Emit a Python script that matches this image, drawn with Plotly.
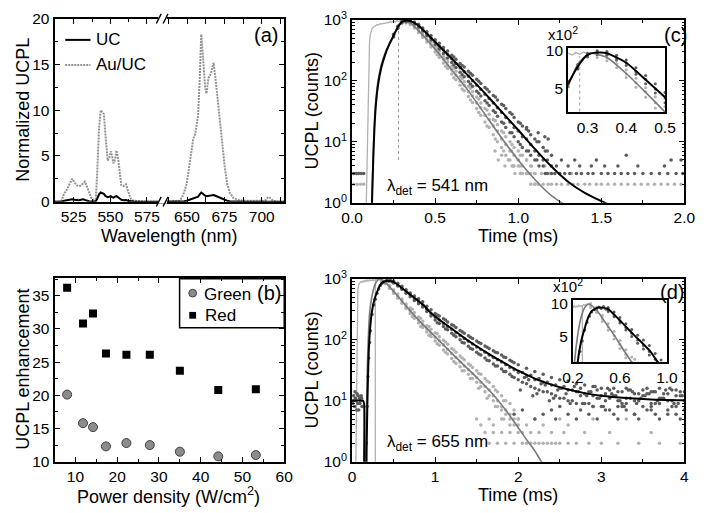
import plotly.graph_objects as go
import math

W, H = 708, 513
FONT = "Liberation Sans, Arial, sans-serif"


def fx(p):
    return p / W


def fy(p):
    return 1 - p / H


# ---------------- (a) spectra ----------------
wl_left = [512, 514, 516, 517, 518.5, 520, 522, 524, 525.5, 527,
           528.5, 530, 531.5, 532.6, 534, 535.5, 537, 538.5, 540.1, 541,
           542.3, 543.4, 544.5, 545.6, 546.8, 548.2, 549.3, 550.3, 551.2, 552.1,
           553.2, 554.2, 555.5, 556.5, 557.5, 559, 560.7, 562, 564, 566,
           569.4, 574, 580, 586]
au_left = [0, 0, 0.05, 0.2, 0.9, 1.2, 1.8, 2.5, 2.1, 1.8,
           1.7, 1.75, 2.0, 2.2, 1.7, 1.0, 0.4, 0.2, 0.3, 3.0,
           8.0, 10.0, 9.8, 9.6, 7.0, 4.5, 4.8, 5.5, 5.0, 4.2,
           4.6, 5.6, 4.5, 2.8, 1.8, 1.7, 1.9, 1.2, 0.3, 0.1,
           0.05, 0, 0, 0]
uc_left = [0, 0, 0, 0.02, 0.1, 0.15, 0.2, 0.25, 0.2, 0.15,
           0.15, 0.2, 0.25, 0.2, 0.1, 0.05, 0.03, 0.02, 0.05, 0.3,
           0.8, 1.0, 0.95, 0.85, 0.6, 0.5, 0.55, 0.6, 0.5, 0.45,
           0.55, 0.6, 0.45, 0.3, 0.2, 0.15, 0.18, 0.1, 0.03, 0.01,
           0, 0, 0, 0]
wl_right = [634, 640, 644.4, 646.5, 648, 649.8, 651.5, 653, 654.1, 655.6,
            657.4, 658.5, 659.5, 660.4, 661.2, 662.1, 663, 664.3, 666, 667.7,
            669, 670.3, 672, 673.6, 675.2, 676.8, 678.5, 681, 684, 687.7,
            695, 701, 702.8, 704, 705, 706, 707.5, 710, 715]
au_right = [0, 0, 0.05, 0.4, 1.0, 2.0, 4.0, 6.0, 6.8, 7.5,
            9.5, 13.5, 18.3, 16.5, 14, 12.5, 11.8, 13.5, 14.0, 15.2,
            13.5, 11.5, 9.0, 6.0, 3.8, 2.0, 1.0, 0.4, 0.2, 0.1,
            0.1, 0.1, 0.2, 0.45, 0.5, 0.3, 0.1, 0, 0]
uc_right = [0, 0, 0, 0.02, 0.05, 0.1, 0.2, 0.35, 0.4, 0.45,
            0.55, 0.8, 1.0, 0.9, 0.75, 0.65, 0.6, 0.65, 0.7, 0.72,
            0.65, 0.55, 0.45, 0.3, 0.2, 0.1, 0.05, 0.02, 0, 0,
            0, 0, 0, 0.01, 0.02, 0, 0, 0, 0]

# ---------------- (b) enhancement ----------------
power = [8.0, 11.8, 14.2, 17.3, 22.2, 27.8, 35.0, 44.2, 53.2]
green_enh = [20.1, 15.8, 15.2, 12.3, 12.8, 12.5, 11.5, 10.8, 11.0]
red_enh = [36.2, 30.8, 32.3, 26.3, 26.1, 26.1, 23.7, 20.8, 20.9]

# ---------------- (c) decay at 541 nm ----------------
c_fit_uc_t = [0.115, 0.12, 0.125, 0.13, 0.14, 0.155, 0.175, 0.2, 0.225, 0.25, 0.275, 0.3, 0.325, 0.35,
              0.4, 0.45, 0.5, 0.6, 0.7, 0.8, 0.9, 1.0, 1.1, 1.2, 1.3, 1.4, 1.52, 1.6]
c_fit_uc_y = [0.3, 1.0, 3, 8, 30, 80, 160, 270, 400, 550, 750, 920, 960, 950,
              800, 590, 430, 230, 120, 62, 31, 15.5, 7.6, 3.9, 2.2, 1.45, 1.0, 0.8]
c_fit_au_t = [0.115, 0.12, 0.125, 0.13, 0.14, 0.155, 0.175, 0.2, 0.225, 0.25, 0.275, 0.3, 0.31,
              0.35, 0.4, 0.45, 0.5, 0.6, 0.7, 0.8, 0.9, 1.0, 1.1, 1.2, 1.26, 1.32]
c_fit_au_y = [0.3, 1.2, 4, 10, 38, 95, 180, 290, 400, 530, 780, 930, 950,
              880, 660, 470, 330, 150, 68, 28, 11.5, 5, 2.4, 1.3, 1.0, 0.8]

c_dark_t = [0.250, 0.275, 0.300, 0.325, 0.350, 0.375, 0.400, 0.425, 0.450, 0.475,
            0.500, 0.525, 0.550, 0.575, 0.600, 0.625, 0.650, 0.675, 0.700, 0.725,
            0.750, 0.775, 0.800, 0.825, 0.850, 0.875, 0.900, 0.925, 0.950, 0.975,
            1.000, 1.025, 1.050, 1.075, 1.100, 1.125, 1.150, 1.175, 1.200]
c_dark_lo = [520, 715, 885, 925, 915, 845, 760, 650, 550, 465,
             390, 330, 280, 235, 198, 165, 138, 116, 97, 81,
             67, 56, 47, 39, 32, 26, 21, 17, 14, 12,
             10, 8, 7, 6, 5, 4, 4, 3, 3]
c_dark_hi = [575, 780, 950, 990, 980, 915, 840, 730, 635, 550,
             470, 410, 350, 305, 262, 225, 192, 168, 143, 123,
             105, 90, 77, 66, 57, 48, 41, 35, 30, 25,
             21, 18, 16, 13, 11, 10, 8, 7, 6]
c_dark_mid = [545, 740, 915, 955, 950, 870, 795, 685, 595, 500,
              425, 365, 318, 268, 228, 192, 163, 140, 118, 100,
              84, 72, 60, 51, 43, 36, 30, 25, 21, 17,
              15, 12, 11, 9, 7, 6, 5, 5, 4]
c_dark2_t = [0.6125, 0.6625, 0.7125, 0.7625, 0.8125, 0.8625, 0.9125, 0.9625, 1.0125, 1.0625, 1.1125, 1.1625]
c_dark2_lo = [180, 125, 88, 62, 43, 30, 20, 14, 9, 7, 5, 3]
c_dark2_hi = [245, 178, 132, 98, 72, 54, 39, 28, 20, 15, 10, 7]
c_dark_tail_t = [1.22, 1.25, 1.28, 1.31, 1.35, 1.38, 1.42, 1.45, 1.5, 1.54, 1.58, 1.62, 1.66, 1.7, 1.75,
                 1.8, 1.85, 1.9, 1.95, 1.99, 1.23, 1.3, 1.37, 1.44, 1.52, 1.6, 1.72, 1.88, 1.26, 1.34,
                 1.47, 1.92, 1.12, 1.16, 1.18, 1.05, 0.01, 0.025, 0.04, 0.055, 0.07, 1.65, 1.98]
c_dark_tail_y = [3, 3, 3, 3, 3, 3, 3, 3, 3, 3, 3, 3, 3, 3, 3,
                 3, 3, 3, 3, 3, 4, 4, 4, 4, 4, 4, 4, 4, 5, 5,
                 5, 5, 14, 12, 11, 17, 3, 3, 3, 3, 3, 6, 5]

c_light_t = [0.325, 0.350, 0.375, 0.400, 0.425, 0.450, 0.475, 0.500, 0.525, 0.550,
             0.575, 0.600, 0.625, 0.650, 0.675, 0.700, 0.725, 0.750, 0.775, 0.800,
             0.825, 0.850, 0.875, 0.900, 0.925, 0.950, 0.975, 1.000, 1.025, 1.050,
             1.075, 1.100]
c_light_lo = [880, 830, 730, 615, 515, 430, 355, 295, 240, 195,
              158, 128, 103, 84, 68, 55, 44, 35, 27, 21,
              17, 13, 10, 8, 6, 5, 4, 4, 3, 3,
              2, 2]
c_light_hi = [975, 925, 830, 705, 605, 510, 435, 365, 300, 250,
              205, 172, 142, 117, 97, 81, 66, 54, 43, 35,
              28, 23, 19, 15, 12, 10, 8, 7, 6, 5,
              4, 3]
c_light_mid = [925, 875, 785, 655, 560, 475, 390, 330, 268, 225,
               180, 150, 124, 98, 84, 66, 56, 43, 36, 27,
               23, 18, 15, 11, 9, 7, 6, 5, 4, 3,
               3, 2]
c_light2_t = [0.5125, 0.5625, 0.6125, 0.6625, 0.7125, 0.7625, 0.8125, 0.8625, 0.9125, 0.9625, 1.0125]
c_light2_lo = [265, 172, 112, 73, 48, 30, 18, 11, 7, 4, 3]
c_light2_hi = [335, 230, 160, 108, 75, 50, 33, 22, 14, 9, 6]
c_light_tail_t = [1.12, 1.15, 1.18, 1.2, 1.23, 1.26, 1.3, 1.33, 1.36, 1.4, 1.43, 1.47, 1.5, 1.54, 1.58,
                  1.62, 1.66, 1.7, 1.74, 1.78, 1.82, 1.86, 1.9, 1.94, 1.98, 0.01, 0.03, 0.05, 0.07,
                  0.98, 1.02, 1.06, 1.1, 1.14, 1.19, 1.25, 1.32, 0.92, 0.97, 1.01, 1.08, 1.16,
                  0.88, 0.94, 1.0, 1.05, 0.86, 0.9, 0.96]
c_light_tail_y = [2, 2, 2, 2, 2, 2, 2, 2, 2, 2, 2, 2, 2, 2, 2,
                  2, 2, 2, 2, 2, 2, 2, 2, 2, 2, 2, 2, 2, 2,
                  3, 3, 3, 3, 3, 3, 3, 3, 4, 4, 4, 4, 4,
                  5, 5, 5, 5, 7, 6, 7]
c_early_t = [0.085, 0.09, 0.095, 0.1, 0.105, 0.11, 0.12, 0.13, 0.14, 0.15, 0.16, 0.17, 0.18,
             0.19, 0.2, 0.21, 0.22, 0.23, 0.24, 0.25, 0.26, 0.27, 0.28, 0.29, 0.3, 0.31]
c_early_y = [0.8, 4, 40, 200, 420, 580, 700, 760, 790, 830, 820, 860, 850,
             880, 870, 900, 890, 930, 910, 950, 920, 960, 930, 970, 940, 950]
c_vline_t = [0.28, 0.28]
c_vline_y = [5, 900]

# ---------------- (d) decay at 655 nm ----------------
d_fit_uc_t = [0, 0.13, 0.145, 0.152, 0.165, 0.175, 0.185, 0.2, 0.22, 0.24,
              0.27, 0.3, 0.33, 0.36, 0.41, 0.45, 0.5, 0.58, 0.65, 0.72,
              0.8, 0.86, 0.92, 1.0, 1.1, 1.25, 1.4, 1.5, 1.65, 1.8,
              2.0, 2.2, 2.4, 2.6, 2.8, 3.0, 3.3, 3.6, 4.0]
d_fit_uc_y = [10, 10, 9, 0.3, 0.3, 1.5, 10, 60, 170, 295,
              460, 600, 750, 860, 920, 920, 890, 740, 620, 520,
              430, 370, 300, 240, 190, 135, 96, 78, 58, 44,
              31, 23, 18.3, 15.2, 13.3, 12.1, 11.1, 10.5, 10.2]
d_fit_au_t = [0.155, 0.165, 0.175, 0.185, 0.2, 0.214, 0.24, 0.27, 0.3, 0.33, 0.36, 0.4, 0.45,
              0.5, 0.55, 0.6, 0.65, 0.75, 0.85, 1.0, 1.15, 1.3, 1.5, 1.7, 1.85, 2.0, 2.1, 2.2, 2.28, 2.35]
d_fit_au_y = [0.5, 1.5, 8, 40, 150, 300, 520, 760, 920, 990, 960, 880, 740,
              620, 520, 430, 355, 250, 178, 112, 70, 44, 24, 12.5, 7, 3.6, 2.3, 1.5, 1.0, 0.8]

d_dark_t = [0.5, 0.55, 0.6, 0.65, 0.7, 0.75, 0.8, 0.85, 0.9, 0.95,
            1.0, 1.05, 1.1, 1.15, 1.2, 1.25, 1.3, 1.35, 1.4, 1.45,
            1.5, 1.55, 1.6, 1.65, 1.7, 1.75, 1.8, 1.85, 1.9, 1.95,
            2.0, 2.1, 2.2, 2.3, 2.4, 2.5, 2.6, 2.7, 2.8, 2.9,
            3.0, 3.1, 3.2, 3.3, 3.4, 3.5, 3.6, 3.7, 3.8, 3.9, 4.0]
d_dark_lo = [850, 760, 670, 580, 505, 440, 390, 345, 290, 245,
             210, 185, 165, 145, 128, 112, 100, 88, 78, 70,
             62, 56, 50, 45, 40, 37, 33, 30, 27, 24,
             22, 19, 16, 14, 13, 11, 10, 9, 9, 8,
             8, 7, 8, 9, 6, 8, 7, 9, 6, 8, 7]
d_dark_hi = [920, 840, 750, 660, 585, 520, 470, 420, 355, 310,
             270, 245, 220, 195, 175, 158, 142, 128, 116, 105,
             95, 87, 79, 72, 66, 61, 56, 51, 46, 42,
             39, 34, 30, 27, 24, 22, 21, 19, 18, 17,
             16, 15, 14, 16, 13, 15, 14, 16, 13, 15, 14]
d_dark_mid = [880, 790, 700, 610, 540, 470, 420, 370, 315, 270,
              235, 210, 185, 165, 148, 130, 117, 105, 94, 85,
              76, 69, 62, 56, 51, 47, 43, 39, 35, 32,
              29, 25, 22, 20, 18, 16, 15, 14, 13, 12,
              12, 11, 10, 11, 10, 12, 9, 11, 10, 12, 10]
d_dark2_t = [2.05, 2.15, 2.25, 2.35, 2.45, 2.55, 2.65, 2.75, 2.85, 2.95,
             3.05, 3.15, 3.25, 3.35, 3.45, 3.55, 3.65, 3.75, 3.85, 3.95]
d_dark2_a = [20, 17, 15, 14, 12, 11, 10, 12, 9, 11,
             10, 12, 9, 11, 10, 13, 9, 11, 10, 12]
d_dark2_b = [29, 26, 23, 20, 18, 17, 15, 16, 14, 15,
             13, 16, 14, 15, 13, 16, 14, 13, 15, 14]
d_dark3_t = [1.025, 1.125, 1.225, 1.325, 1.425, 1.525, 1.625, 1.725, 1.825, 1.925]
d_dark3_a = [190, 150, 118, 90, 72, 58, 46, 37, 30, 25]
d_dark3_b = [255, 210, 170, 135, 110, 90, 75, 62, 52, 44]
d_dark4_t = [2.025, 2.125, 2.225, 2.325, 2.425, 2.525, 2.625, 2.725, 2.825, 2.925,
             3.025, 3.125, 3.225, 3.325, 3.425, 3.525, 3.625, 3.725, 3.825, 3.925]
d_dark4_y = [15, 22, 13, 18, 11, 16, 9, 14, 12, 17, 8, 13, 10, 15, 9, 12, 14, 11, 16, 9]
d_dark5_t = [2.075, 2.175, 2.275, 2.375, 2.475, 2.575, 2.675, 2.775, 2.875, 2.975,
             3.075, 3.175, 3.275, 3.375, 3.475, 3.575, 3.675, 3.775, 3.875, 3.975]
d_dark5_y = [24, 12, 19, 10, 15, 13, 17, 9, 14, 11, 16, 12, 8, 14, 11, 13, 10, 15, 9, 12]
d_dark_band_t = [2.2, 2.45, 2.7, 2.95, 3.2, 3.45, 3.7, 3.95,
                 1.95, 2.3, 2.6, 2.85, 3.15, 3.4, 3.65, 3.9,
                 2.05, 2.4, 2.75, 3.05, 3.3, 3.55, 3.8,
                 2.5, 2.9, 3.25, 3.6, 3.85,
                 0.01, 0.02, 0.03, 0.04, 0.05, 0.06, 0.07, 0.08, 0.09, 0.1, 0.11, 0.12,
                 0.015, 0.035, 0.055, 0.075, 0.095, 0.115]
d_dark_band_y = [5, 5, 5, 5, 5, 5, 5, 5,
                 6, 6, 6, 6, 6, 6, 6, 6,
                 7, 7, 7, 7, 7, 7, 7,
                 8, 8, 8, 8, 8,
                 9, 12, 8, 11, 10, 13, 9, 7, 11, 10, 12, 8,
                 10, 14, 7, 12, 9, 11]
d_rise_t = [0.17, 0.18, 0.19, 0.2, 0.21, 0.22, 0.24, 0.26, 0.28, 0.3,
            0.32, 0.34, 0.36, 0.38, 0.4, 0.42, 0.44, 0.46, 0.48]
d_rise_y = [2, 8, 25, 50, 90, 140, 260, 370, 460, 580,
            680, 770, 840, 880, 900, 930, 905, 940, 890]

d_light_t = [0.35, 0.4, 0.45, 0.5, 0.55, 0.6, 0.65, 0.7, 0.75, 0.8,
             0.85, 0.9, 0.95, 1.0, 1.05, 1.1, 1.15, 1.2, 1.25, 1.3,
             1.35, 1.4, 1.45, 1.5, 1.55, 1.6, 1.65, 1.7, 1.75, 1.8,
             1.85, 1.9, 1.95, 2.0]
d_light_lo = [920, 830, 690, 575, 480, 395, 325, 270, 225, 188,
              158, 134, 113, 95, 81, 68, 58, 49, 41, 36,
              31, 27, 23, 20, 17, 14, 12, 10, 8, 7,
              6, 5, 4, 3]
d_light_hi = [1000, 920, 780, 660, 560, 465, 385, 330, 280, 235,
              200, 170, 148, 130, 112, 98, 84, 72, 62, 54,
              47, 40, 35, 31, 27, 23, 20, 17, 14, 12,
              10, 9, 7, 5]
d_light_mid = [960, 870, 735, 615, 515, 430, 350, 295, 245, 210,
               178, 150, 128, 110, 96, 82, 70, 59, 51, 43,
               37, 32, 28, 24, 20, 17, 15, 12, 10, 8,
               7, 6, 5, 4]
d_light3_t = [0.725, 0.825, 0.925, 1.025, 1.125, 1.225, 1.325, 1.425, 1.525, 1.625, 1.725, 1.825]
d_light3_a = [240, 165, 118, 86, 62, 44, 31, 23, 16, 11, 8, 5]
d_light3_b = [315, 225, 165, 125, 92, 68, 50, 38, 28, 21, 15, 10]
d_light_band_t = [1.65, 1.75, 1.85, 1.95, 2.05, 2.1, 2.15, 2.2, 2.25, 2.3, 2.35, 2.4, 2.45, 2.5,
                  2.6, 2.7, 2.85, 3.0, 3.2, 3.45, 3.7, 3.95,
                  1.6, 1.7, 1.8, 1.9, 2.05, 2.15, 2.25, 2.4, 2.55, 2.8, 3.1, 3.6,
                  1.55, 1.7, 1.9, 2.1, 2.3, 2.6,
                  1.5, 1.65, 1.8, 2.0, 2.2, 2.5, 2.9, 3.3]
d_light_band_y = [2, 2, 2, 2, 2, 2, 2, 2, 2, 2, 2, 2, 2, 2,
                  2, 2, 2, 2, 2, 2, 2, 2,
                  3, 3, 3, 3, 3, 3, 3, 3, 3, 3, 3, 3,
                  4, 4, 4, 4, 4, 4,
                  5, 5, 5, 5, 5, 5, 5, 5]
d_early_t = [0.045, 0.05, 0.055, 0.06, 0.065, 0.07, 0.08, 0.09, 0.1, 0.11, 0.12, 0.13, 0.14,
             0.15, 0.16, 0.17, 0.18, 0.19, 0.2, 0.21, 0.22, 0.23, 0.24, 0.25, 0.26, 0.27,
             0.28, 0.29, 0.3, 0.31, 0.32, 0.33]
d_early_y = [0.8, 5, 50, 250, 500, 680, 800, 860, 880, 900, 870, 910, 890,
             930, 900, 940, 910, 950, 920, 960, 930, 950, 930, 970, 940, 960,
             950, 980, 960, 990, 970, 1000]
d_vline_t = [0.28, 0.28]
d_vline_y = [0.5, 950]

DARK = "#5c5c5c"
LIGHT = "#b2b2b2"
FITGREY = "#7a7a7a"
SPEC_GREY = "#939393"

fig = go.Figure()


def sc(x, y, xa, ya, **kw):
    fig.add_trace(go.Scatter(x=x, y=y, xaxis=xa, yaxis=ya, showlegend=False,
                             hoverinfo="skip", **kw))


# (a)
sc(wl_left, au_left, "x", "y", mode="lines", line=dict(color=SPEC_GREY, width=2, dash="2px,1px"))
sc(wl_right, au_right, "x2", "y", mode="lines", line=dict(color=SPEC_GREY, width=2, dash="2px,1px"))
sc(wl_left, uc_left, "x", "y", mode="lines", line=dict(color="black", width=2))
sc(wl_right, uc_right, "x2", "y", mode="lines", line=dict(color="black", width=2))
sc([], [], "x2", "y2")

# (b)
sc(power, green_enh, "x3", "y3", mode="markers",
   marker=dict(symbol="circle", size=9, color="#8c8c8c", line=dict(color="#404040", width=1)))
sc(power, red_enh, "x3", "y3", mode="markers",
   marker=dict(symbol="square", size=8, color="black"))


def decay_c(xa, ya, ms):
    sc(c_early_t, c_early_y, xa, ya, mode="lines", line=dict(color=LIGHT, width=1.3))
    sc(c_light_t * 3 + c_light2_t * 2, c_light_lo + c_light_hi + c_light_mid + c_light2_lo + c_light2_hi,
       xa, ya, mode="markers", marker=dict(size=ms, color=LIGHT))
    sc(c_light_tail_t, c_light_tail_y, xa, ya, mode="markers", marker=dict(size=ms, color=LIGHT))
    sc(c_dark_t * 3 + c_dark2_t * 2, c_dark_lo + c_dark_hi + c_dark_mid + c_dark2_lo + c_dark2_hi,
       xa, ya, mode="markers", marker=dict(size=ms, color=DARK))
    sc(c_dark_tail_t, c_dark_tail_y, xa, ya, mode="markers", marker=dict(size=ms, color=DARK))
    sc(c_vline_t, c_vline_y, xa, ya, mode="lines", line=dict(color="#9a9a9a", width=1, dash="dot"))
    sc(c_fit_au_t, c_fit_au_y, xa, ya, mode="lines",
       line=dict(color=FITGREY, width=1.6, shape="spline", smoothing=0.6))
    sc(c_fit_uc_t, c_fit_uc_y, xa, ya, mode="lines",
       line=dict(color="black", width=2, shape="spline", smoothing=0.6))


def decay_d(xa, ya, ms):
    sc(d_early_t, d_early_y, xa, ya, mode="lines", line=dict(color=LIGHT, width=1.3))
    sc(d_vline_t, d_vline_y, xa, ya, mode="lines", line=dict(color=LIGHT, width=1.3))
    sc(d_light_t * 3 + d_light3_t * 2, d_light_lo + d_light_hi + d_light_mid + d_light3_a + d_light3_b,
       xa, ya, mode="markers", marker=dict(size=ms, color=LIGHT))
    sc(d_light_band_t, d_light_band_y, xa, ya, mode="markers", marker=dict(size=ms, color=LIGHT))
    sc(d_rise_t, d_rise_y, xa, ya, mode="markers", marker=dict(size=ms, color=DARK))
    sc(d_dark_t * 3 + d_dark3_t * 2, d_dark_lo + d_dark_hi + d_dark_mid + d_dark3_a + d_dark3_b,
       xa, ya, mode="markers", marker=dict(size=ms, color=DARK))
    sc(d_dark2_t * 2 + d_dark4_t + d_dark5_t, d_dark2_a + d_dark2_b + d_dark4_y + d_dark5_y,
       xa, ya, mode="markers", marker=dict(size=ms, color=DARK))
    sc(d_dark_band_t, d_dark_band_y, xa, ya, mode="markers", marker=dict(size=ms, color=DARK))
    sc(d_fit_au_t, d_fit_au_y, xa, ya, mode="lines",
       line=dict(color=FITGREY, width=1.6, shape="spline", smoothing=0.5))
    sc(d_fit_uc_t, d_fit_uc_y, xa, ya, mode="lines",
       line=dict(color="black", width=2, shape="spline", smoothing=0.5))


decay_c("x4", "y4", 3.5)
decay_c("x5", "y5", 3)
decay_d("x6", "y6", 3.5)
decay_d("x7", "y7", 3)

TICKF = dict(family=FONT, size=15.5, color="black")
INSF = dict(family=FONT, size=15.5, color="black")


def ax(**kw):
    d = dict(showline=True, linecolor="black", linewidth=2, ticks="inside", ticklen=5,
             tickwidth=1.3, tickcolor="black", showgrid=False, zeroline=False,
             tickfont=TICKF, mirror="allticks")
    d.update(kw)
    return d


def minor(vals, ln=3):
    return dict(tickvals=vals, ticks="inside", ticklen=ln, tickcolor="black", tickwidth=1, showgrid=False)


log_minor = [2, 3, 4, 5, 6, 7, 8, 9, 20, 30, 40, 50, 60, 70, 80, 90, 200, 300, 400, 500, 600, 700, 800, 900]
log_ticks = [1, 10, 100, 1000]
log_text = ["10<sup>0</sup>", "10<sup>1</sup>", "10<sup>2</sup>", "10<sup>3</sup>"]

fig.update_layout(
    width=W, height=H, margin=dict(l=0, r=0, t=0, b=0),
    paper_bgcolor="white", plot_bgcolor="white", showlegend=False,
    font=dict(family=FONT, color="black"),
    # (a)
    xaxis=ax(domain=[fx(45), fx(157)], range=[512, 586], anchor="y",
             tickvals=[525, 550, 575], minor=minor([512.5, 537.5, 562.5])),
    xaxis2=ax(domain=[fx(157), fx(282)], range=[634, 715], anchor="y",
              tickvals=[650, 675, 700], minor=minor([637.5, 662.5, 687.5, 712.5])),
    yaxis=ax(domain=[fy(198), fy(8)], range=[0, 20], anchor="x", mirror=False,
             tickvals=[0, 5, 10, 15, 20], minor=minor([2.5, 7.5, 12.5, 17.5])),
    yaxis2=ax(overlaying="y", side="right", anchor="x2", range=[0, 20], mirror=False,
              showticklabels=False, tickvals=[0, 5, 10, 15, 20], minor=minor([2.5, 7.5, 12.5, 17.5])),
    # (b)
    xaxis3=ax(domain=[fx(45), fx(282)], range=[5, 60], anchor="y3",
              tickvals=[10, 20, 30, 40, 50, 60], minor=minor([15, 25, 35, 45, 55])),
    yaxis3=ax(domain=[fy(468), fy(277)], range=[10, 37.7], anchor="x3",
              tickvals=[10, 15, 20, 25, 30, 35], minor=minor([12.5, 17.5, 22.5, 27.5, 32.5, 37.5])),
    # (c)
    xaxis4=ax(domain=[fx(352), fx(695)], range=[0, 2], anchor="y4",
              tickvals=[0, 0.5, 1, 1.5, 2], ticktext=["0.0", "0.5", "1.0", "1.5", "2.0"],
              minor=minor([0.25, 0.75, 1.25, 1.75])),
    yaxis4=ax(domain=[fy(199), fy(9)], type="log", range=[0, 3], anchor="x4",
              tickvals=log_ticks, ticktext=log_text, minor=minor(log_minor, 2.5)),
    xaxis5=ax(domain=[fx(575), fx(675)], range=[0.25, 0.5], anchor="y5", mirror=True,
              ticks="", tickvals=[0.3, 0.4, 0.5], linewidth=2, tickfont=INSF),
    yaxis5=ax(domain=[fy(105), fy(38)], type="log", range=[math.log10(330), math.log10(1050)],
              anchor="x5", mirror=True, ticks="", tickvals=[500, 1000], ticktext=["5", "10"],
              linewidth=2, tickfont=INSF),
    # (d)
    xaxis6=ax(domain=[fx(352), fx(695)], range=[0, 4], anchor="y6",
              tickvals=[0, 1, 2, 3, 4], minor=minor([0.5, 1.5, 2.5, 3.5])),
    yaxis6=ax(domain=[fy(468), fy(278)], type="log", range=[0, 3], anchor="x6",
              tickvals=log_ticks, ticktext=log_text, minor=minor(log_minor, 2.5)),
    xaxis7=ax(domain=[fx(580), fx(677)], range=[0.2, 1.0], anchor="y7", mirror=True,
              ticks="", tickvals=[0.2, 0.6, 1.0], ticktext=["0.2", "0.6", "1.0"], linewidth=2,
              tickfont=INSF),
    yaxis7=ax(domain=[fy(365), fy(300)], type="log", range=[math.log10(295), math.log10(1080)],
              anchor="x7", mirror=True, ticks="", tickvals=[500, 1000], ticktext=["5", "10"],
              linewidth=2, tickfont=INSF),
)

TF = dict(family=FONT, size=18, color="black")
GF = dict(family=FONT, size=17, color="black")
LF = dict(family=FONT, size=20, color="black")
SF = dict(family=FONT, size=15, color="black")


def ann(x, y, text, font=TF, xanchor="center", angle=0):
    return dict(x=fx(x), y=fy(y), xref="paper", yref="paper", text=text, showarrow=False,
                font=font, xanchor=xanchor, yanchor="middle", textangle=angle)


annotations = [
    ann(13, 103, "Normalized UCPL", angle=-90),
    ann(163, 234, "Wavelength (nm)"),
    ann(263, 25, "(a)", LF),
    ann(86, 30, "UC", GF, "left"),
    ann(86, 56, "Au/UC", GF, "left"),
    ann(13, 372, "UCPL enhancement", angle=-90),
    ann(163, 503, "Power density (W/cm<sup>2</sup>)"),
    ann(266, 293, "(b)", LF),
    ann(197, 294, "Green", GF, "left"),
    ann(198, 316, "Red", GF, "left"),
    ann(311, 104, "UCPL (counts)", angle=-90),
    ann(523, 234, "Time (ms)"),
    ann(686, 25, "(c)", LF),
    ann(386, 183, "λ<sub>det</sub> = 541 nm", GF, "left"),
    ann(570, 23, "x10<sup>2</sup>", SF),
    ann(311, 373, "UCPL (counts)", angle=-90),
    ann(523, 503, "Time (ms)"),
    ann(682, 292, "(d)", LF),
    ann(386, 449, "λ<sub>det</sub> = 655 nm", GF, "left"),
    ann(575, 285, "x10<sup>2</sup>", SF),
]
fig.update_layout(annotations=annotations)


def line_shape(x0, y0, x1, y1, color="black", width=2, dash="solid"):
    return dict(type="line", xref="paper", yref="paper", x0=fx(x0), y0=fy(y0), x1=fx(x1), y1=fy(y1),
                line=dict(color=color, width=width, dash=dash))


shapes = [
    # legend (a)
    line_shape(56, 30, 82, 30),
    line_shape(56, 56, 82, 56, color=SPEC_GREY, width=2, dash="2px,1px"),
    # axis break (a)
    dict(type="rect", xref="paper", yref="paper", x0=fx(152), x1=fx(161), y0=fy(200), y1=fy(196),
         fillcolor="white", line=dict(width=0)),
    dict(type="rect", xref="paper", yref="paper", x0=fx(152), x1=fx(161), y0=fy(10), y1=fy(6),
         fillcolor="white", line=dict(width=0)),
    line_shape(150, 203, 155, 193, width=1.4),
    line_shape(157, 203, 162, 193, width=1.4),
    line_shape(150, 13, 155, 3, width=1.4),
    line_shape(157, 13, 162, 3, width=1.4),
    # legend (b)
    dict(type="rect", xref="paper", yref="paper", x0=fx(174), x1=fx(282), y0=fy(329), y1=fy(278),
         line=dict(color="black", width=1.5), fillcolor="rgba(0,0,0,0)"),
    dict(type="circle", xref="paper", yref="paper", x0=fx(183.5), x1=fx(191.5), y0=fy(297), y1=fy(289),
         fillcolor="#8c8c8c", line=dict(color="#404040", width=1)),
    dict(type="rect", xref="paper", yref="paper", x0=fx(184), x1=fx(191), y0=fy(319.5), y1=fy(312.5),
         fillcolor="black", line=dict(width=0)),
]
fig.update_layout(shapes=shapes)

fig.write_html("out.html")
